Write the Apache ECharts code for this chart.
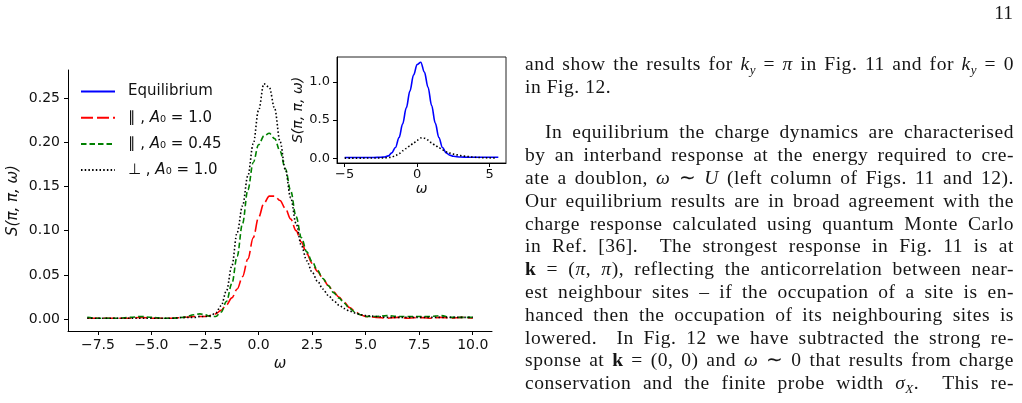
<!DOCTYPE html>
<html><head><meta charset="utf-8">
<script src="https://cdn.jsdelivr.net/npm/echarts@6/dist/echarts.min.js"></script>
<style>
html,body{margin:0;padding:0;background:#fff;}
#wrap{position:relative;width:1022px;height:403px;overflow:hidden;background:#fff;}
#chart{position:absolute;left:0;top:0;width:1022px;height:403px;}
.ln{position:absolute;left:525px;width:489px;font-family:"Liberation Serif",serif;font-size:19.5px;letter-spacing:0.55px;line-height:22px;color:#151515;text-align:justify;text-align-last:justify;}
.ln.last{text-align-last:left;}
.ln sub{font-size:13px;line-height:0;vertical-align:-4px;}
#pg{position:absolute;right:9px;top:2px;font-family:"Liberation Serif",serif;font-size:19.5px;color:#151515;}
</style></head>
<body><div id="wrap"><div id="chart"></div><div id="pg">11</div></div>
<script>
// ---- data ----
const omega = [-8,-7.5,-7,-6.5,-6,-5.5,-5,-4.5,-4,-3.5,-3,-2.75,-2.5,-2.25,-2,-1.75,-1.5,-1.25,-1,-0.75,-0.5,-0.25,0,0.25,0.5,0.75,1,1.25,1.5,1.75,2,2.25,2.5,2.75,3,3.25,3.5,3.75,4,4.25,4.5,4.75,5,5.5,6,6.5,7,7.5,8,8.5,9,9.5,10];
const perpA10 = [0.001,0.001,0.001,0.001,0.001,0.001,0.001,0.001,0.001,0.002,0.002,0.003,0.003,0.004,0.007,0.015,0.032,0.060,0.098,0.128,0.162,0.198,0.236,0.266,0.262,0.238,0.201,0.169,0.137,0.108,0.083,0.066,0.053,0.043,0.034,0.027,0.021,0.016,0.012,0.009,0.007,0.005,0.004,0.003,0.002,0.002,0.002,0.002,0.002,0.002,0.002,0.002,0.002];
const parA045 = [0.002,0.001,0.001,0.001,0.002,0.003,0.002,0.001,0.001,0.002,0.005,0.006,0.005,0.003,0.003,0.008,0.020,0.040,0.071,0.108,0.146,0.177,0.197,0.207,0.210,0.204,0.190,0.170,0.145,0.116,0.092,0.076,0.065,0.055,0.046,0.038,0.030,0.024,0.018,0.012,0.008,0.005,0.003,0.003,0.004,0.003,0.003,0.003,0.003,0.004,0.002,0.002,0.002];
const parA10 = [0.001,0.001,0.001,0.001,0.001,0.002,0.001,0.001,0.001,0.002,0.003,0.003,0.003,0.004,0.006,0.010,0.016,0.024,0.034,0.048,0.068,0.092,0.115,0.131,0.139,0.139,0.134,0.125,0.113,0.100,0.087,0.074,0.063,0.054,0.046,0.038,0.031,0.025,0.019,0.013,0.009,0.005,0.003,0.002,0.001,0.002,0.001,0.002,0.001,0.002,0.001,0.002,0.001];
const omegaInset = [-5,-4.5,-4,-3.5,-3,-2.5,-2.25,-2,-1.75,-1.5,-1.25,-1,-0.75,-0.5,-0.25,0,0.25,0.5,0.75,1,1.25,1.5,1.75,2,2.25,2.5,3,3.5,4,4.5,5,5.6];
const equilibrium = [0.01,0.01,0.01,0.01,0.01,0.012,0.015,0.03,0.07,0.14,0.27,0.45,0.66,0.88,1.09,1.23,1.26,1.13,0.93,0.69,0.46,0.27,0.14,0.07,0.04,0.025,0.015,0.012,0.012,0.012,0.012,0.012];
const insetRange = [-5, 5.6];
const seriesNames = ['Equilibrium', '\u2225 , A\u2080 = 1.0', '\u2225 , A\u2080 = 0.45', '\u22a5 , A\u2080 = 1.0'];
const mainXTicks = [-7.5,-5,-2.5,0,2.5,5,7.5,10];
const mainYTicks = [0,0.05,0.10,0.15,0.20,0.25];
const insetXTicks = [-5,0,5];
const insetYTicks = [0,0.5,1.0];
const textLines = [
  {row:0, cls:'', html:'and show the results for <i>k</i><sub><i>y</i></sub> = <i>π</i> in Fig. 11 and for <i>k</i><sub><i>y</i></sub> = 0'},
  {row:1, cls:'last', html:'in Fig. 12.'},
  {row:3, cls:'', ind:20, html:'In equilibrium the charge dynamics are characterised'},
  {row:4, cls:'', html:'by an interband response at the energy required to cre-'},
  {row:5, cls:'', html:'ate a doublon, <i>ω</i> ∼ <i>U</i> (left column of Figs. 11 and 12).'},
  {row:6, cls:'', html:'Our equilibrium results are in broad agreement with the'},
  {row:7, cls:'', html:'charge response calculated using quantum Monte Carlo'},
  {row:8, cls:'', html:'in Ref. [36].&nbsp; The strongest response in Fig. 11 is at'},
  {row:9, cls:'', html:'<b>k</b> = (<i>π</i>, <i>π</i>), reflecting the anticorrelation between near-'},
  {row:10, cls:'', html:'est neighbour sites – if the occupation of a site is en-'},
  {row:11, cls:'', html:'hanced then the occupation of its neighbouring sites is'},
  {row:12, cls:'', html:'lowered.&nbsp; In Fig. 12 we have subtracted the strong re-'},
  {row:13, cls:'', html:'sponse at <b>k</b> = (0, 0) and <i>ω</i> ∼ 0 that results from charge'},
  {row:14, cls:'', html:'conservation and the finite probe width <i>σ</i><sub><i>X</i></sub>.&nbsp; This re-'}
];

// ---- text column ----
const wrap = document.getElementById('wrap');
textLines.forEach(function(t){
  const d = document.createElement('div');
  d.className = 'ln ' + t.cls;
  d.style.top = (66 + 22.8 * t.row - 13) + 'px';
  if (t.ind) { d.style.left = (525 + t.ind) + 'px'; d.style.width = (489 - t.ind) + 'px'; }
  d.innerHTML = t.html;
  wrap.appendChild(d);
});

// ---- chart ----
const zip = (xs, ys) => xs.map((x, i) => [x, ys[i]]);
const fmt = d => v => v.toFixed(d).replace('-', '\u2212');
const insetPerp = zip(omega, perpA10).filter(p => p[0] >= insetRange[0] && p[0] <= insetRange[1]);
const FONT = 'DejaVu Sans';
const chart = echarts.init(document.getElementById('chart'), null, {renderer:'canvas'});
const axisBase = (ticks) => ({
  axisLine:{show:true, onZero:false, lineStyle:{color:'#000', width:1}},
  axisTick:{show:true, inside:false, length:4, customValues:ticks, lineStyle:{color:'#000', width:1}},
  splitLine:{show:false}
});
const lineSeries = (name, data, color, type, xi) => ({
  type:'line', name:name, data:data, xAxisIndex:xi, yAxisIndex:xi,
  showSymbol:false, symbol:'none', smooth:0.35, smoothMonotone:'x', clip:true,
  lineStyle:{color:color, width:1.6, type:type}, itemStyle:{color:color},
  emphasis:{disabled:true}, animation:false
});
chart.setOption({
  animation:false,
  textStyle:{fontFamily:FONT},
  grid:[
    {left:68, top:70, width:424, height:261, show:false},
    {left:337, top:57, width:169, height:106, show:true, borderColor:'#222', borderWidth:1, backgroundColor:'rgba(255,255,255,0)'}
  ],
  xAxis:[
    Object.assign({type:'value', gridIndex:0, min:-8.9, max:10.9,
      name:'ω', nameLocation:'middle', nameGap:22,
      nameTextStyle:{fontSize:15, fontStyle:'italic', color:'#111', fontFamily:FONT},
      axisLabel:{customValues:mainXTicks, formatter:fmt(1), fontSize:14, color:'#111', margin:7}
    }, axisBase(mainXTicks)),
    Object.assign({type:'value', gridIndex:1, min:-5.53, max:6.13,
      name:'ω', nameLocation:'middle', nameGap:19,
      nameTextStyle:{fontSize:14, fontStyle:'italic', color:'#111', fontFamily:FONT},
      axisLabel:{customValues:insetXTicks, formatter:fmt(0), fontSize:13, color:'#111', margin:5}
    }, axisBase(insetXTicks))
  ],
  yAxis:[
    Object.assign({type:'value', gridIndex:0, min:-0.0134, max:0.2815,
      name:'S(π, π, ω)', nameLocation:'middle', nameGap:47, nameRotate:90,
      nameTextStyle:{fontSize:15, fontStyle:'italic', color:'#111', fontFamily:FONT},
      axisLabel:{customValues:mainYTicks, formatter:fmt(2), fontSize:14, color:'#111', margin:8}
    }, axisBase(mainYTicks)),
    Object.assign({type:'value', gridIndex:1, min:-0.063, max:1.328,
      name:'S(π, π, ω)', nameLocation:'middle', nameGap:30, nameRotate:90,
      nameTextStyle:{fontSize:14, fontStyle:'italic', color:'#111', fontFamily:FONT},
      axisLabel:{customValues:insetYTicks, formatter:fmt(1), fontSize:13, color:'#111', margin:7}
    }, axisBase(insetYTicks))
  ],
  legend:{
    data:seriesNames, left:75, top:79, orient:'vertical', itemWidth:34, itemHeight:14, itemGap:11.2,
    selectedMode:false,
    itemStyle:{opacity:0},
    textStyle:{fontSize:15, color:'#111', padding:[0,0,0,8], rich:{
      n:{fontSize:15, color:'#111', fontFamily:FONT},
      i:{fontSize:15, color:'#111', fontStyle:'italic', fontFamily:FONT}
    }},
    formatter:function(name){
      const k = name.indexOf('A\u2080');
      if (k < 0) return '{n|' + name + '}';
      return '{n|' + name.slice(0,k) + '}{i|A}{n|\u2080' + name.slice(k+2) + '}';
    }
  },
  series:[
    lineSeries(seriesNames[0], zip(omegaInset, equilibrium), '#0000ff', 'solid', 1),
    lineSeries(seriesNames[1], zip(omega, parA10), '#ff0000', [12,4], 0),
    lineSeries(seriesNames[2], zip(omega, parA045), '#008000', [5.5,3], 0),
    lineSeries(seriesNames[3], zip(omega, perpA10), '#000000', [1.5,2.2], 0),
    lineSeries(seriesNames[3], insetPerp, '#000000', [1.5,2.2], 1)
  ]
});
</script></body></html>
